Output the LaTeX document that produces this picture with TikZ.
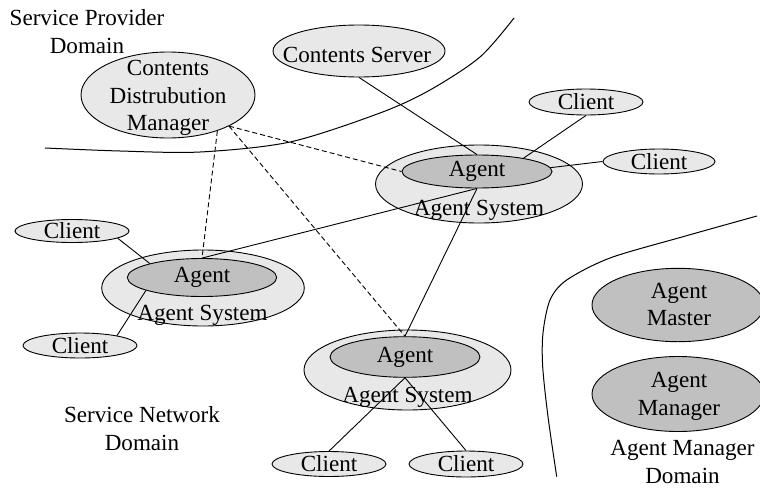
\documentclass[tikz,border=0pt]{standalone}
\usepackage{fontspec}
\setmainfont{Liberation Serif}
\usetikzlibrary{shapes.geometric}
\definecolor{lightfill}{RGB}{232,232,232}
\definecolor{darkfill}{RGB}{192,192,192}
\begin{document}
\begin{tikzpicture}[x=1pt,y=-1pt,
  every node/.style={font=\fontsize{23.1}{27.5}\selectfont},
  ell/.style={ellipse, draw, line width=0.9pt, inner sep=0pt},
  light/.style={ell, fill=lightfill},
  dark/.style={ell, fill=darkfill},
  txt/.style={align=center, inner sep=0pt},
  conn/.style={line width=0.9pt},
  dconn/.style={line width=0.9pt, dash pattern=on 5pt off 3pt},
  boundary/.style={line width=1pt}]
\useasboundingbox (0,0) rectangle (760,490);

% domain boundaries
\draw[boundary] plot[smooth] coordinates {(45,148) (120,151) (200,152) (290,142) (380,113) (430,90) (480,57) (514,18)};
\draw[boundary] plot[smooth] coordinates {(757,216) (683,236.7) (610,258) (566.7,280) (550,300) (543,333) (542.7,366.7) (548,416.7) (556.7,476.7)};

% domain labels
\node[txt] (spd) at (87,31.8) {Service Provider\\Domain};
\node[txt] (snd) at (142,428.5) {Service Network\\Domain};
\node[txt] (amd) at (682.5,462) {Agent Manager\\Domain};

% service provider nodes
\node[light, minimum width=174pt, minimum height=86pt] (cdm) at (168,95) {};
\node[txt] (cdmt) at (168,98) {Contents\\Distrubution\\Manager};
\node[light, minimum width=172pt, minimum height=52pt] (cs) at (359,51) {};
\node[txt] (cst) at (357,54.5) {Contents Server};

% agent system A
\node[light, minimum width=207pt, minimum height=78pt] (asA) at (479,184) {};
\node[dark, minimum width=150pt, minimum height=33pt] (agentA) at (477,171.5) {Agent};
\node[txt] (asAt) at (479,210.5) {Agent System};

% agent system B
\node[light, minimum width=202.6pt, minimum height=76pt] (asB) at (203,288) {};
\node[dark, minimum width=149.4pt, minimum height=38pt] (agentB) at (202,277.5) {Agent};
\node[txt] (asBt) at (202.5,315.5) {Agent System};

% agent system C
\node[light, minimum width=207pt, minimum height=80pt] (asC) at (407.5,370) {};
\node[dark, minimum width=150pt, minimum height=40.6pt] (agentC) at (405,357) {Agent};
\node[txt] (asCt) at (407.5,397) {Agent System};

% clients
\node[light, minimum width=114pt, minimum height=26pt] (clientA) at (586,102) {Client};
\node[light, minimum width=112pt, minimum height=25pt] (clientB) at (659,161.5) {Client};
\node[light, minimum width=114pt, minimum height=23pt] (clientC) at (72,231) {Client};
\node[light, minimum width=114pt, minimum height=25pt] (clientD) at (80,345.5) {Client};
\node[light, minimum width=114pt, minimum height=25pt] (clientE) at (329,464) {Client};
\node[light, minimum width=114pt, minimum height=26pt] (clientF) at (466,464) {Client};

% agent manager domain
\node[dark, minimum width=172pt, minimum height=73.4pt] (amaster) at (678,305) {};
\node[txt] (amastert) at (679,304.5) {Agent\\Master};
\node[dark, minimum width=172pt, minimum height=75pt] (amanager) at (678,394) {};
\node[txt] (amanagert) at (679,396.5) {Agent\\Manager};

% connectors
\draw[conn] (cs.south) -- (agentA.north);
\draw[conn] (clientA.south) -- (agentA.16);
\draw[conn] (clientB.west) -- (agentA.3);
\draw[conn] (agentB.north) -- (agentA.south);
\draw[conn] (agentA.south) -- (agentC.north);
\draw[conn] (clientC.-9) -- (agentB.165);
\draw[conn] (clientD.15) -- (agentB.-167);
\draw[conn] (agentC.south) -- (clientE.north);
\draw[conn] (agentC.south) -- (clientF.north);
\draw[dconn] (cdm.-27) -- (agentA.west);
\draw[dconn] (cdm.-27) -- (agentC.north);
\draw[dconn] (cdm.-36) -- (agentB.north);
\end{tikzpicture}
\end{document}
